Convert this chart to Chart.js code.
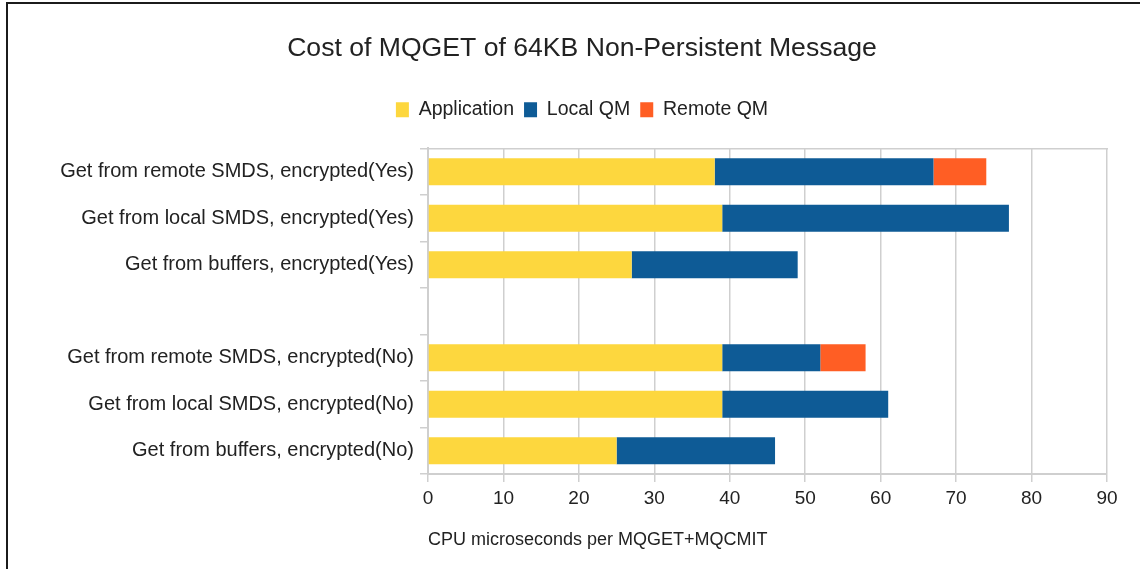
<!DOCTYPE html>
<html>
<head>
<meta charset="utf-8">
<script src="https://cdn.jsdelivr.net/npm/chart.js@4"></script>
<style>
  body { margin: 0; background: #fff; }
  #frame { position: absolute; left: 0; top: 0; width: 1140px; height: 569px; }
  #lineTop { position: absolute; left: 6px; top: 2px; width: 1134px; height: 2px; background: #1b1b1b; }
  #lineLeft { position: absolute; left: 6px; top: 2px; width: 2px; height: 567px; background: #1b1b1b; }
  #box { position: absolute; left: 24px; top: 4px; width: 1116px; height: 565px; }
</style>
</head>
<body>
<div id="frame">
  <div id="lineTop"></div>
  <div id="lineLeft"></div>
  <div id="box"><canvas id="myChart"></canvas></div>
</div>
<script>
// Datos del gráfico
const categories = [
    'Get from remote SMDS, encrypted(Yes)',
    'Get from local SMDS, encrypted(Yes)',
    'Get from buffers, encrypted(Yes)',
    '',
    'Get from remote SMDS, encrypted(No)',
    'Get from local SMDS, encrypted(No)',
    'Get from buffers, encrypted(No)'
];
const application = [38, 39, 27, null, 39, 39, 25];
const localQM     = [29, 38, 22, null, 13, 22, 21];
const remoteQM    = [7, 0, 0, null, 6, 0, 0];
const xTicks = [0, 10, 20, 30, 40, 50, 60, 70, 80, 90];

const gridColor = '#cfcfcf';
const textColor = '#222222';
const font = 'Liberation Sans, Arial, sans-serif';

function createChart() {
    const ctx = document.getElementById('myChart').getContext('2d');
    new Chart(ctx, {
        type: 'bar',
        data: {
            labels: categories,
            datasets: [
                { label: 'Application', data: application, backgroundColor: '#fdd73e' },
                { label: 'Local QM', data: localQM, backgroundColor: '#0e5b96' },
                { label: 'Remote QM', data: remoteQM, backgroundColor: '#ff5e24' }
            ]
        },
        options: {
            indexAxis: 'y',
            responsive: true,
            maintainAspectRatio: false,
            animation: false,
            categoryPercentage: 1,
            barPercentage: 0.58,
            layout: { padding: { left: 33, right: 33, top: 0, bottom: 0 } },
            plugins: {
                title: {
                    display: true,
                    text: 'Cost of MQGET of 64KB Non-Persistent Message',
                    color: textColor,
                    font: { family: font, size: 26.6, weight: 'normal' },
                    padding: { top: 29, bottom: 25 }
                },
                legend: {
                    labels: {
                        color: textColor,
                        font: { family: font, size: 19.5 },
                        boxWidth: 13,
                        boxHeight: 15,
                        padding: 10
                    }
                },
                tooltip: { enabled: false }
            },
            scales: {
                x: {
                    stacked: true,
                    min: 0,
                    max: 90,
                    afterBuildTicks: s => { s.ticks = xTicks.map(v => ({ value: v })); },
                    afterFit: s => { s.height = 95; },
                    grid: { color: gridColor, lineWidth: 1.5, tickLength: 8 },
                    border: { color: gridColor, width: 2 },
                    ticks: { color: textColor, font: { family: font, size: 19 }, padding: 5 },
                    title: {
                        display: true,
                        align: 'start',
                        text: 'CPU microseconds per MQGET+MQCMIT',
                        color: textColor,
                        font: { family: font, size: 18 },
                        padding: { top: 10, bottom: 18 }
                    }
                },
                xTop: {
                    axis: 'x',
                    position: 'top',
                    min: 0,
                    max: 90,
                    afterFit: s => { s.height = 19; },
                    ticks: { display: false },
                    grid: { display: false },
                    border: { color: gridColor, width: 1.5 }
                },
                y: {
                    stacked: true,
                    afterFit: s => { s.width = 371; },
                    grid: { offset: true, drawOnChartArea: false, color: gridColor, tickLength: 8, lineWidth: 1.5 },
                    border: { color: gridColor, width: 2 },
                    ticks: { color: textColor, font: { family: font, size: 20 }, padding: 6 }
                }
            }
        }
    });
}

window.onload = createChart;
</script>
</body>
</html>
